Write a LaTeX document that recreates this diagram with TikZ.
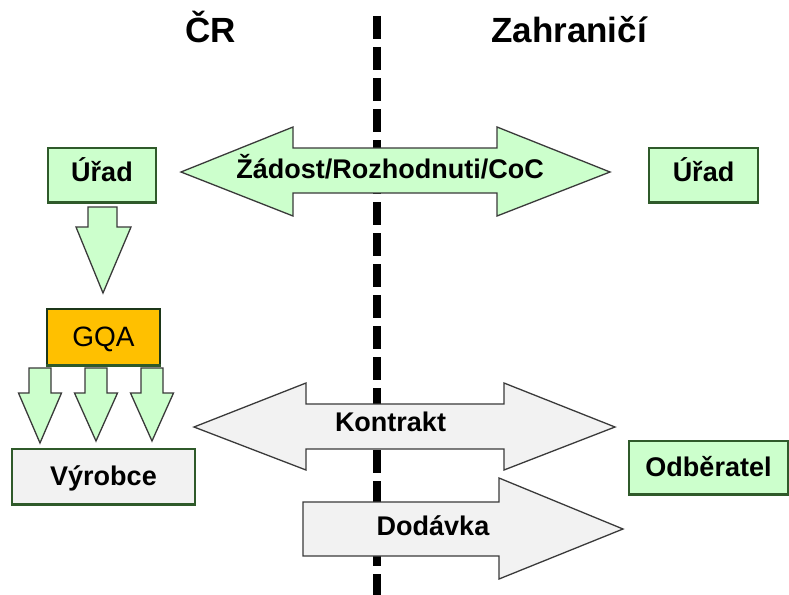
\documentclass[tikz,border=0pt]{standalone}
\usepackage{fontspec}
\setmainfont{Liberation Sans}
\definecolor{lgreen}{HTML}{CCFFCC}
\definecolor{dgreen}{HTML}{2F5A2A}
\definecolor{agray}{HTML}{3A3A3A}
\definecolor{lgray}{HTML}{F2F2F2}
\definecolor{gqacol}{HTML}{FFC000}
\tikzset{
  lbl/.style={font=\fontsize{27}{30}\selectfont\bfseries, inner sep=0pt, anchor=base},
  headlbl/.style={font=\fontsize{35}{40}\selectfont\bfseries, inner sep=0pt, anchor=base},
  boxbase/.style={draw=dgreen, line width=1.3pt, inner sep=0pt, text depth=0pt,
    font=\fontsize{27}{30}\selectfont\bfseries},
  greenbox/.style={boxbase, fill=lgreen},
  graybox/.style={boxbase, fill=lgray},
  gqabox/.style={boxbase, fill=gqacol, draw=dgreen!60!black, font=\fontsize{28}{30}\selectfont},
  boxfoot/.style={draw=dgreen, line width=2.6pt},
  garrow/.style={fill=lgreen, draw=agray, line width=1.3pt, line join=miter},
  grarrow/.style={fill=lgray, draw=agray, line width=1.3pt, line join=miter},
  divider/.style={line width=8pt, dash pattern=on 23pt off 8pt},
}
\begin{document}
\begin{tikzpicture}[x=1pt, y=-1pt]
\useasboundingbox (0,0) rectangle (789,594);
\fill[white] (0,0) rectangle (789,594);

% divider
\coordinate (divtop) at (377,16);
\coordinate (divbot) at (377,598);
\draw[divider] (divtop) -- (divbot);

% headings
\node[headlbl] (cr) at (211,43) {ČR};
\node[headlbl] (zahr) at (569,43) {Zahraničí};

% boxes
\node[greenbox, minimum width=108pt, minimum height=54pt, text height=13.4pt] (u1) at (102,175) {Úřad};
\draw[boxfoot] (u1.south west) -- (u1.south east);
\node[greenbox, minimum width=109pt, minimum height=54pt, text height=13.4pt] (u2) at (703.5,175) {Úřad};
\draw[boxfoot] (u2.south west) -- (u2.south east);
\node[gqabox, minimum width=113pt, minimum height=56pt, text height=19.4pt] (gqa) at (103.5,337) {GQA};
\draw[boxfoot] (gqa.south west) -- (gqa.south east);
\node[graybox, minimum width=183pt, minimum height=55pt, text height=17pt] (vyr) at (103.5,476.5) {Výrobce};
\draw[boxfoot] (vyr.south west) -- (vyr.south east);
\node[greenbox, minimum width=159pt, minimum height=53pt, text height=18.4pt] (odb) at (708.5,467.5) {Odběratel};
\draw[boxfoot] (odb.south west) -- (odb.south east);

% Zadost double arrow
\draw[garrow] (181,172) -- (293,127) -- (293,148) -- (497,148) -- (497,127) -- (610,172)
  -- (497,216) -- (497,193) -- (293,193) -- (293,216) -- cycle;
\node[lbl] (zad) at (390,178.3) {Žádost/Rozhodnuti/CoC};

% Urad -> GQA arrow
\draw[garrow] (88,207) -- (117,207) -- (117,227) -- (131,227) -- (103,293) -- (76,227) -- (88,227) -- cycle;

% GQA -> Vyrobce arrows
\foreach \cx/\tip in {40/443, 96/441, 152/441}{
  \draw[garrow] (\cx-11,368) -- (\cx+11,368) -- (\cx+11,393) -- (\cx+21.5,393) -- (\cx,\tip)
    -- (\cx-21.5,393) -- (\cx-11,393) -- cycle;
}

% Kontrakt double arrow
\draw[grarrow] (194,427) -- (306,383) -- (306,404) -- (504,404) -- (504,383) -- (615,427)
  -- (504,470) -- (504,449) -- (306,449) -- (306,470) -- cycle;
\node[lbl] (kon) at (390.5,431.7) {Kontrakt};

% Dodavka arrow
\draw[grarrow] (303,502) -- (499,502) -- (499,478) -- (623,529) -- (499,579) -- (499,556) -- (303,556) -- cycle;
\node[lbl] (dod) at (433,535) {Dodávka};
\end{tikzpicture}
\end{document}
